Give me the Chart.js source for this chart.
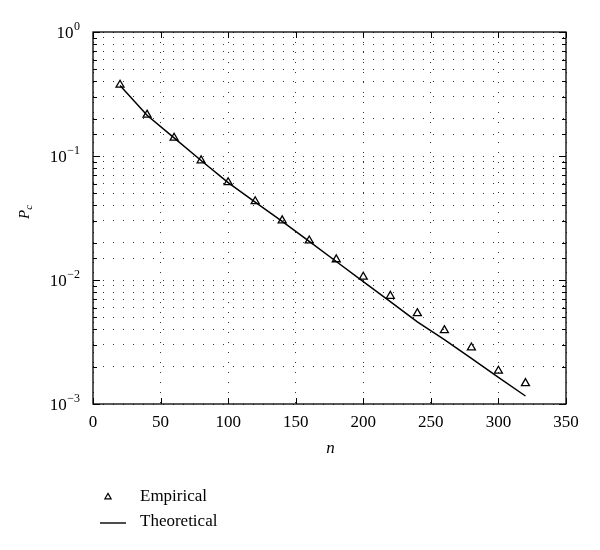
<!DOCTYPE html>
<html>
<head>
<meta charset="utf-8">
<script src="https://cdn.jsdelivr.net/npm/chart.js@4/dist/chart.umd.min.js"></script>
<style>
  html, body { margin: 0; padding: 0; background: #fff; }
  #wrap { width: 600px; height: 550px; }
</style>
</head>
<body>
<div id="wrap"><canvas id="pc" width="600" height="550"></canvas></div>
<script>
const nValues = [20, 40, 60, 80, 100, 120, 140, 160, 180, 200, 220, 240, 260, 280, 300, 320];
const empirical = [0.375, 0.215, 0.14, 0.092, 0.0613, 0.0431, 0.0302, 0.0208, 0.01465, 0.0106,
                   0.00743, 0.00539, 0.00393, 0.00285, 0.00185, 0.00147];
const theoretical = [0.37, 0.213, 0.14, 0.092, 0.061, 0.0425, 0.0297, 0.0205, 0.0141, 0.0097,
                     0.0067, 0.0046, 0.0033, 0.00233, 0.00164, 0.00116];
const xTickStep = 50;
const xRange = [0, 350];
const yRange = [0.001, 1];
const seriesNames = ['Empirical', 'Theoretical'];

function isDecade(v) {
    const l = Math.log10(v);
    return Math.abs(l - Math.round(l)) < 1e-9;
}

function exponentText(v) {
    const e = Math.round(Math.log10(v));
    return e < 0 ? '\u2212' + (-e) : String(e);
}

// box, inward ticks, decade labels, axis titles and legend
const decorations = {
    id: 'decorations',
    afterDraw(chart) {
        const { ctx, chartArea: a, scales: { x, y } } = chart;
        ctx.save();
        ctx.strokeStyle = '#000';
        ctx.lineWidth = 1.3;
        ctx.strokeRect(a.left, a.top, a.right - a.left, a.bottom - a.top);

        ctx.lineWidth = 1;
        ctx.beginPath();
        y.ticks.forEach(t => {
            const py = Math.round(y.getPixelForValue(t.value)) + 0.5;
            const len = isDecade(t.value) ? 7 : 4;
            ctx.moveTo(a.left, py); ctx.lineTo(a.left + len, py);
            ctx.moveTo(a.right, py); ctx.lineTo(a.right - len, py);
        });
        x.ticks.forEach(t => {
            const px = Math.round(x.getPixelForValue(t.value)) + 0.5;
            ctx.moveTo(px, a.bottom); ctx.lineTo(px, a.bottom - 6);
            ctx.moveTo(px, a.top); ctx.lineTo(px, a.top + 6);
        });
        ctx.stroke();

        // y decade labels: 10 with raised exponent
        ctx.fillStyle = '#000';
        ctx.textBaseline = 'alphabetic';
        ctx.textAlign = 'right';
        y.ticks.filter(t => isDecade(t.value)).forEach(t => {
            const py = y.getPixelForValue(t.value);
            const right = a.left - 13;
            ctx.font = "12px 'Liberation Serif', serif";
            const exp = exponentText(t.value);
            const ew = ctx.measureText(exp).width;
            ctx.fillText(exp, right, py - 2);
            ctx.font = "17px 'Liberation Serif', serif";
            ctx.fillText('10', right - ew - 0.5, py + 6);
        });

        // axis titles
        ctx.textAlign = 'center';
        ctx.font = "italic 17px 'Liberation Serif', serif";
        ctx.fillText('n', (a.left + a.right) / 2 + 1, 453);

        ctx.save();
        ctx.translate(29, 219);
        ctx.rotate(-Math.PI / 2);
        ctx.textAlign = 'left';
        ctx.font = "italic 15px 'Liberation Serif', serif";
        ctx.fillText('P', 0, 0);
        const w = ctx.measureText('P').width;
        ctx.font = "italic 11px 'Liberation Serif', serif";
        ctx.fillText('c', w, 3);
        ctx.restore();

        // legend
        const sets = chart.data.datasets;
        ctx.font = "17px 'Liberation Serif', serif";
        ctx.textAlign = 'left';
        ctx.textBaseline = 'middle';
        const r = 3.6;
        const ty = 497;
        ctx.lineWidth = 1.2;
        ctx.beginPath();
        ctx.moveTo(108, ty - r);
        ctx.lineTo(108 + r * 0.866, ty + r / 2);
        ctx.lineTo(108 - r * 0.866, ty + r / 2);
        ctx.closePath();
        ctx.stroke();
        ctx.fillText(sets[0].label, 140, ty);

        ctx.lineWidth = 1.4;
        ctx.beginPath();
        ctx.moveTo(100, 523); ctx.lineTo(126, 523);
        ctx.stroke();
        ctx.fillText(sets[1].label, 140, 522);
        ctx.restore();
    }
};

document.addEventListener('DOMContentLoaded', () => {
    Chart.defaults.font.family = "'Liberation Serif', 'Times New Roman', serif";
    Chart.defaults.font.size = 17;
    Chart.defaults.color = '#000';

    const gridDots = { color: '#333', lineWidth: 1, drawTicks: false };

    new Chart(document.getElementById('pc'), {
        type: 'line',
        data: {
            datasets: [
                {
                    label: seriesNames[0],
                    data: nValues.map((n, i) => ({ x: n, y: empirical[i] })),
                    showLine: false,
                    pointStyle: 'triangle',
                    pointRadius: 4.6,
                    pointBorderWidth: 1.3,
                    pointBorderColor: '#000',
                    pointBackgroundColor: 'rgba(0,0,0,0)'
                },
                {
                    label: seriesNames[1],
                    data: nValues.map((n, i) => ({ x: n, y: theoretical[i] })),
                    borderColor: '#000',
                    borderWidth: 1.5,
                    pointRadius: 0,
                    tension: 0,
                    fill: false
                }
            ]
        },
        options: {
            responsive: false,
            animation: false,
            layout: { padding: { left: 0, top: 32, right: 34, bottom: 0 } },
            plugins: {
                legend: { display: false },
                tooltip: { enabled: false }
            },
            scales: {
                x: {
                    type: 'linear',
                    min: xRange[0],
                    max: xRange[1],
                    grid: gridDots,
                    border: { display: false, dash: [1, 9] },
                    ticks: { stepSize: xTickStep, padding: 8, maxRotation: 0 },
                    afterFit(scale) { scale.height = 146; }
                },
                y: {
                    type: 'logarithmic',
                    min: yRange[0],
                    max: yRange[1],
                    grid: gridDots,
                    border: { display: false, dash: [1, 9] },
                    ticks: { display: false, autoSkip: false },
                    afterFit(scale) { scale.width = 93; }
                }
            }
        },
        plugins: [decorations]
    });
});
</script>
</body>
</html>
